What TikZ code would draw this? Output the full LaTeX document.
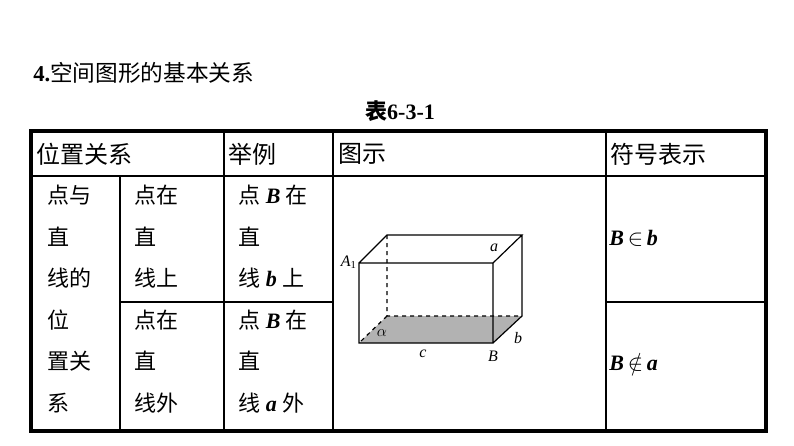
\documentclass[tikz,border=0pt]{standalone}
\usepackage{fontspec}
\setmainfont{Liberation Serif}
\newfontfamily\cjk{Noto Sans CJK SC}
\begin{document}
\begin{tikzpicture}[x=0.75pt,y=-0.75pt,
  thin/.style={line width=1.2pt},
  thick/.style={line width=3pt},
  cell/.style={anchor=west,inner sep=0pt,font=\fontsize{16.5}{18}\selectfont},
  lab/.style={inner sep=0pt,font=\fontsize{12}{13}\selectfont\itshape}]
\useasboundingbox (0,0) rectangle (794,446);
\node[anchor=west,inner sep=0pt,font=\fontsize{17}{20}\selectfont] (title) at (33,73) {\textbf{4.}\cjk 空间图形的基本关系};
\node[inner sep=0pt,font=\fontsize{16.5}{20}\selectfont\bfseries] (cap) at (400,111) {{\cjk 表}6-3-1};
% grid
\draw[thin] (31,176) -- (766,176);
\draw[thin] (224,131) -- (224,431);
\draw[thin] (333,131) -- (333,431);
\draw[thin] (606,131) -- (606,431);
\draw[thin] (120,176) -- (120,431);
\draw[thin] (120,302) -- (333,302);
\draw[thin] (606,302) -- (766,302);
\draw[thick] (31,131) rectangle (766,431);
% header
\node[cell,font=\fontsize{18}{20}\selectfont] (h1) at (36,154) {\cjk 位置关系};
\node[cell,font=\fontsize{18}{20}\selectfont] (h2) at (228,154) {\cjk 举例};
\node[cell,font=\fontsize{18}{20}\selectfont] (h3) at (338,154) {\cjk 图示};
\node[cell,font=\fontsize{18}{20}\selectfont] (h4) at (610,154) {\cjk 符号表示};
% col 1
\node[cell] (c1a) at (47,195) {\cjk 点与};
\node[cell] (c1b) at (47,237) {\cjk 直};
\node[cell] (c1c) at (47,278) {\cjk 线的};
\node[cell] (c1d) at (47,320) {\cjk 位};
\node[cell] (c1e) at (47,361) {\cjk 置关};
\node[cell] (c1f) at (47,403) {\cjk 系};
% col 2
\node[cell] (c2a) at (134,195) {\cjk 点在};
\node[cell] (c2b) at (134,237) {\cjk 直};
\node[cell] (c2c) at (134,278) {\cjk 线上};
\node[cell] (c2d) at (134,320) {\cjk 点在};
\node[cell] (c2e) at (134,361) {\cjk 直};
\node[cell] (c2f) at (134,403) {\cjk 线外};
% col 3
\node[cell] (c3a) at (238,195) {{\cjk 点} \textbf{\textit{B}} {\cjk 在}};
\node[cell] (c3b) at (238,237) {\cjk 直};
\node[cell] (c3c) at (238,278) {{\cjk 线} \textbf{\textit{b}} {\cjk 上}};
\node[cell] (c3d) at (238,320) {{\cjk 点} \textbf{\textit{B}} {\cjk 在}};
\node[cell] (c3e) at (238,361) {\cjk 直};
\node[cell] (c3f) at (238,403) {{\cjk 线} \textbf{\textit{a}} {\cjk 外}};
% symbols
\node[cell] (s1) at (609,238) {\textbf{\textit{B}}$\,\in\,$\textbf{\textit{b}}};
\node[cell] (s2) at (609,362) {\textbf{\textit{B}}$\,\notin\,$\textbf{\textit{a}}};
% cuboid
\coordinate (A1) at (359,263); \coordinate (FTR) at (493,263);
\coordinate (FBL) at (359,343); \coordinate (FBR) at (493,343);
\coordinate (BTL) at (387,235); \coordinate (BTR) at (522,235);
\coordinate (BBL) at (387,316); \coordinate (BBR) at (522,316);
\fill[gray!60] (FBL) -- (FBR) -- (BBR) -- (BBL) -- cycle;
\draw[line width=0.9pt,dashed] (BTL) -- (BBL) -- (BBR) (BBL) -- (FBL);
\draw[line width=0.9pt] (A1) -- (FTR) -- (FBR) -- (FBL) -- cycle
  (A1) -- (BTL) -- (BTR) -- (FTR) (BTR) -- (BBR) -- (FBR);
\node[lab,anchor=east] (lA) at (357,262) {A\textsubscript{\upshape 1}};
\node[lab] (la) at (494,248) {a};
\node[lab] (lal) at (382,333) {$\alpha$};
\node[lab] (lc) at (423,354) {c};
\node[lab] (lB) at (493,356) {B};
\node[lab] (lb) at (518,338) {b};
\end{tikzpicture}
\end{document}
